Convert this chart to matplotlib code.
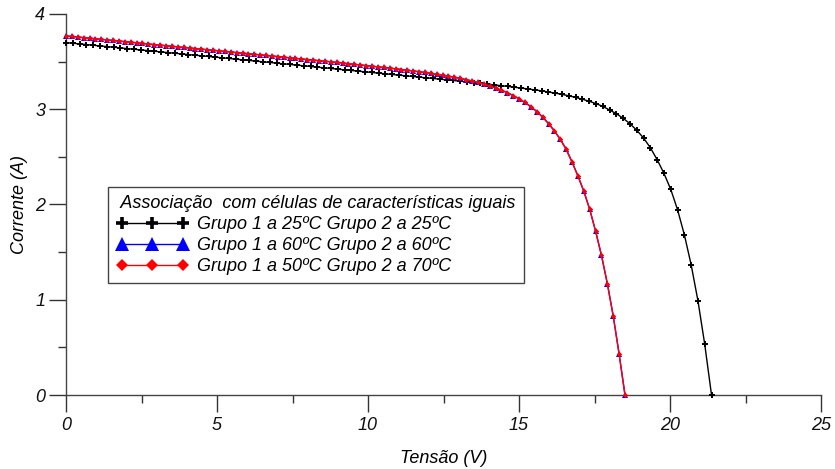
import matplotlib
matplotlib.use("Agg")
import matplotlib.pyplot as plt
from matplotlib.ticker import MultipleLocator

plt.rcParams['font.family'] = ['Liberation Sans', 'DejaVu Sans']
plt.rcParams['font.style'] = 'italic'

# Curve 1: Grupo 1 a 25ºC Grupo 2 a 25ºC
v_25_25 = [0.000, 0.225, 0.450, 0.675, 0.900, 1.125, 1.350, 1.575, 1.800, 2.025,
           2.250, 2.475, 2.700, 2.925, 3.150, 3.375, 3.600, 3.825, 4.050, 4.275,
           4.500, 4.725, 4.950, 5.175, 5.400, 5.625, 5.850, 6.075, 6.300, 6.525,
           6.750, 6.975, 7.200, 7.425, 7.650, 7.875, 8.100, 8.325, 8.550, 8.775,
           9.000, 9.225, 9.450, 9.675, 9.900, 10.125, 10.350, 10.575, 10.800, 11.025,
           11.250, 11.475, 11.700, 11.925, 12.150, 12.375, 12.600, 12.825, 13.050, 13.275,
           13.500, 13.725, 13.950, 14.175, 14.400, 14.625, 14.850, 15.075, 15.300, 15.525,
           15.750, 15.975, 16.200, 16.425, 16.650, 16.875, 17.100, 17.325, 17.550, 17.775,
           18.000, 18.225, 18.450, 18.675, 18.900, 19.125, 19.350, 19.575, 19.800, 20.025,
           20.250, 20.475, 20.700, 20.925, 21.150, 21.375]
i_25_25 = [3.700, 3.693, 3.686, 3.679, 3.672, 3.665, 3.658, 3.651, 3.644, 3.637,
           3.630, 3.623, 3.616, 3.609, 3.602, 3.595, 3.588, 3.581, 3.574, 3.567,
           3.561, 3.554, 3.547, 3.540, 3.533, 3.526, 3.519, 3.512, 3.505, 3.498,
           3.491, 3.484, 3.477, 3.470, 3.463, 3.456, 3.449, 3.442, 3.435, 3.428,
           3.421, 3.414, 3.407, 3.400, 3.393, 3.386, 3.379, 3.372, 3.365, 3.358,
           3.351, 3.344, 3.337, 3.330, 3.323, 3.316, 3.309, 3.302, 3.295, 3.288,
           3.279, 3.272, 3.264, 3.256, 3.248, 3.240, 3.231, 3.222, 3.213, 3.203,
           3.193, 3.181, 3.169, 3.156, 3.141, 3.124, 3.105, 3.084, 3.059, 3.030,
           2.992, 2.953, 2.905, 2.848, 2.779, 2.698, 2.596, 2.470, 2.327, 2.159,
           1.945, 1.683, 1.368, 0.990, 0.532, 0.000]

# Curves 2 and 3: Grupo 1 a 60ºC Grupo 2 a 60ºC / Grupo 1 a 50ºC Grupo 2 a 70ºC
v_hot = [0.000, 0.195, 0.390, 0.585, 0.779, 0.974, 1.169, 1.364, 1.559, 1.754,
         1.948, 2.143, 2.338, 2.533, 2.728, 2.923, 3.117, 3.312, 3.507, 3.702,
         3.897, 4.092, 4.286, 4.481, 4.676, 4.871, 5.066, 5.261, 5.456, 5.650,
         5.845, 6.040, 6.235, 6.430, 6.625, 6.819, 7.014, 7.209, 7.404, 7.599,
         7.794, 7.988, 8.183, 8.378, 8.573, 8.768, 8.963, 9.157, 9.352, 9.547,
         9.742, 9.937, 10.132, 10.327, 10.521, 10.716, 10.911, 11.106, 11.301, 11.496,
         11.690, 11.885, 12.080, 12.275, 12.470, 12.665, 12.859, 13.054, 13.249, 13.444,
         13.639, 13.834, 14.028, 14.223, 14.418, 14.613, 14.808, 15.003, 15.198, 15.392,
         15.587, 15.782, 15.977, 16.172, 16.367, 16.561, 16.756, 16.951, 17.146, 17.341,
         17.536, 17.730, 17.925, 18.120, 18.315, 18.510]
i_60_60 = [3.770, 3.764, 3.758, 3.752, 3.746, 3.740, 3.734, 3.728, 3.722, 3.716,
           3.710, 3.704, 3.698, 3.691, 3.685, 3.679, 3.673, 3.667, 3.661, 3.655,
           3.649, 3.643, 3.637, 3.631, 3.625, 3.619, 3.613, 3.607, 3.601, 3.595,
           3.589, 3.583, 3.577, 3.571, 3.565, 3.559, 3.553, 3.547, 3.540, 3.534,
           3.528, 3.522, 3.516, 3.510, 3.504, 3.498, 3.492, 3.486, 3.478, 3.472,
           3.465, 3.459, 3.452, 3.445, 3.439, 3.432, 3.425, 3.417, 3.410, 3.402,
           3.394, 3.386, 3.377, 3.367, 3.357, 3.347, 3.336, 3.324, 3.311, 3.297,
           3.281, 3.264, 3.245, 3.224, 3.200, 3.174, 3.144, 3.110, 3.071, 3.027,
           2.976, 2.918, 2.850, 2.773, 2.684, 2.581, 2.446, 2.300, 2.140, 1.950,
           1.720, 1.467, 1.170, 0.830, 0.430, 0.000]
i_50_70 = [3.770, 3.764, 3.758, 3.752, 3.746, 3.740, 3.734, 3.728, 3.722, 3.716,
           3.710, 3.704, 3.698, 3.691, 3.685, 3.679, 3.673, 3.667, 3.661, 3.655,
           3.649, 3.643, 3.637, 3.631, 3.625, 3.619, 3.613, 3.607, 3.601, 3.595,
           3.589, 3.583, 3.577, 3.571, 3.565, 3.559, 3.553, 3.547, 3.540, 3.534,
           3.528, 3.522, 3.516, 3.510, 3.504, 3.498, 3.492, 3.486, 3.478, 3.472,
           3.465, 3.459, 3.452, 3.445, 3.439, 3.432, 3.425, 3.417, 3.410, 3.402,
           3.394, 3.386, 3.377, 3.367, 3.357, 3.347, 3.336, 3.324, 3.311, 3.297,
           3.281, 3.264, 3.245, 3.224, 3.200, 3.174, 3.144, 3.110, 3.071, 3.027,
           2.976, 2.918, 2.850, 2.773, 2.684, 2.581, 2.446, 2.300, 2.140, 1.950,
           1.720, 1.467, 1.170, 0.830, 0.430, 0.000]

labels = ["Grupo 1 a 25ºC Grupo 2 a 25ºC",
          "Grupo 1 a 60ºC Grupo 2 a 60ºC",
          "Grupo 1 a 50ºC Grupo 2 a 70ºC"]
legend_title = "Associação  com células de características iguais"
x_ticks = [0, 5, 10, 15, 20, 25]
y_ticks = [0, 1, 2, 3, 4]

W, H = 835, 469
fig = plt.figure(figsize=(W / 100, H / 100), dpi=100)
ax = fig.add_axes([66 / W, 74 / H, (821 - 66) / W, (395 - 14) / H])

ax.plot(v_25_25, i_25_25, color='black', lw=1, marker='+', ms=4, mew=1.4,
        label=labels[0], clip_on=False, zorder=3)
ax.plot(v_hot, i_60_60, color='blue', lw=1, marker='^', ms=4.5, mew=0,
        label=labels[1], clip_on=False, zorder=4)
ax.plot(v_hot, i_50_70, color='red', lw=1, marker='D', ms=2.8, mew=0,
        label=labels[2], clip_on=False, zorder=5)

ax.set_xlim(0, 25)
ax.set_ylim(0, 4)
ax.set_xticks(x_ticks)
ax.set_yticks(y_ticks)
ax.xaxis.set_minor_locator(MultipleLocator(2.5))
ax.yaxis.set_minor_locator(MultipleLocator(0.5))

for s in ['top', 'right']:
    ax.spines[s].set_visible(False)
for s in ['left', 'bottom']:
    ax.spines[s].set_color('#444444')
    ax.spines[s].set_linewidth(1)

ax.tick_params(axis='both', which='major', direction='out', length=12, width=1,
               color='#333333', labelsize=13, labelcolor='#111111')
ax.tick_params(axis='both', which='minor', direction='out', length=6, width=1,
               color='#333333')
ax.tick_params(axis='x', which='major', pad=4)
ax.tick_params(axis='y', which='major', pad=3)

ax.set_xlabel("Tensão (V)", fontsize=13)
ax.set_ylabel("Corrente (A)", fontsize=13)
ax.xaxis.set_label_coords(0.5, -0.145)
ax.yaxis.set_label_coords(-0.05, 0.5)

leg = ax.legend(loc='upper left', bbox_to_anchor=(0.0556, 0.546), borderaxespad=0,
                title=" " + legend_title, fontsize=13, title_fontsize=13,
                numpoints=3, markerscale=2.3, handlelength=4.0, handletextpad=0.5,
                labelspacing=0.22, borderpad=0.45, fancybox=False, framealpha=1,
                edgecolor='#444444', alignment='left')
leg.get_frame().set_linewidth(1)
leg.get_title().set_fontstyle('italic')
leg.legend_handles[0].set_markeredgewidth(2.6)

fig.savefig("out.png", dpi=100)
